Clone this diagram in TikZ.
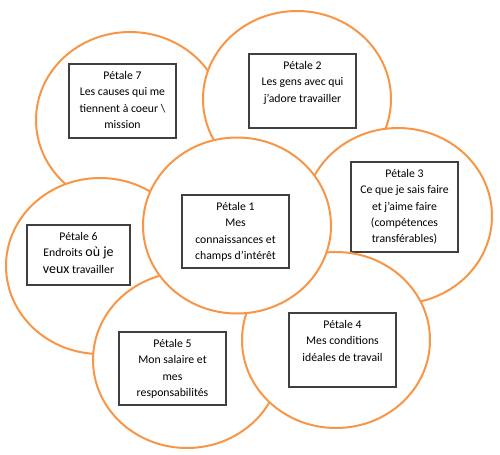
\documentclass[tikz,border=0pt]{standalone}
\usepackage{fontspec}
\setmainfont{Carlito}
\usetikzlibrary{shapes.geometric}

\definecolor{orangepetale}{HTML}{F79646}
\definecolor{grisboite}{HTML}{404040}

\newdimen\px
\px=0.75pt

\tikzset{
    petale/.style={ellipse, draw=orangepetale, line width=1.5pt, fill=white,
        minimum width=188*\px, minimum height=176*\px, inner sep=0pt},
    boite/.style={draw=grisboite, line width=0.9pt, fill=white, inner sep=0pt,
        font=\fontsize{8.8}{12.2}\selectfont}
}

\begin{document}
\begin{tikzpicture}[x=0.75pt, y=-0.75pt]

        % ===============================
        % Cadre (pixels de l'image)
        % ===============================
        \useasboundingbox (0,0) rectangle (500,454);

        % Texte d'une boite, cale en haut
        \providecommand{\Texte}[3]{%
            \parbox[c][#2\px][t]{#1\px}{\centering\rule{0pt}{15.5\px}#3}%
        }

        % ===============================
        % Petales : cercle puis boite
        % (ordre de superposition : 7,6,5,2,3,4,1)
        % ===============================
        \foreach \nom/\cx/\cy/\bx/\by/\bw/\bh/\texte in {
                7/130/120/122.5/101/107/74/{Pétale 7\\Les causes qui me\\tiennent à coeur \textbackslash\\mission},
                6/100/266/78.5/255/103/60/{Pétale 6\\Endroits {\fontsize{10.5}{12.2}\selectfont où je}\\{\fontsize{10.5}{12.2}\selectfont veux} travailler},
                5/187/360/172.5/368.5/107/73/{Pétale 5\\Mon salaire et\\mes\\responsabilités},
                2/297/99/302.5/91/107/74/{Pétale 2\\Les gens avec qui\\j’adore travailler},
                3/398/216/404.5/207/107/90/{Pétale 3\\Ce que je sais faire\\et j’aime faire\\(compétences\\transférables)},
                4/336/340/342.5/350/107/74/{Pétale 4\\Mes conditions\\idéales de travail},
                1/237/225.5/235.5/231.5/107/73/{Pétale 1\\Mes\\connaissances et\\champs d’intérêt}}{
                \node[petale] (c\nom) at (\cx,\cy) {};
                \node[boite] (p\nom) at (\bx,\by) {\Texte{\bw}{\bh}{\texte}};
            }

    \end{tikzpicture}
\end{document}
